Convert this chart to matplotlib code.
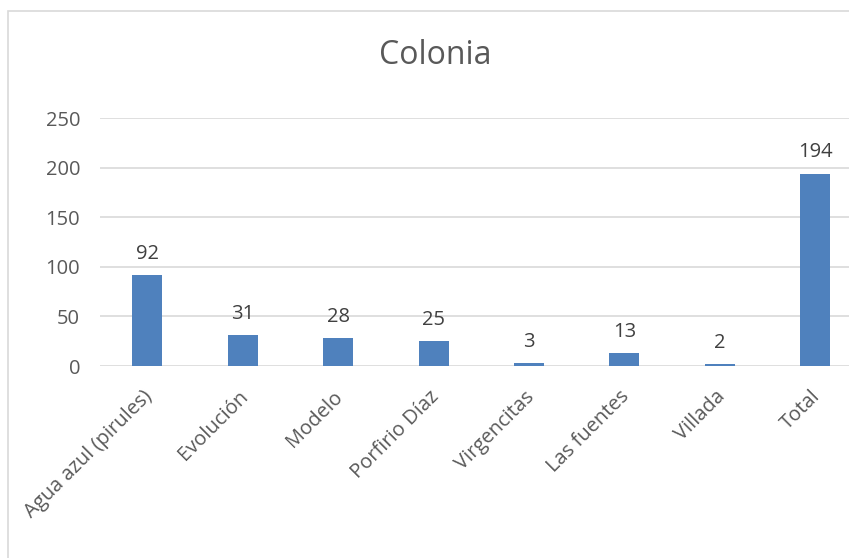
import numpy as np
import matplotlib.pyplot as plt
import matplotlib.transforms as mtransforms
from matplotlib.patches import Rectangle

categorias = ['Agua azul (pirules)', 'Evolución', 'Modelo', 'Porfirio Díaz',
              'Virgencitas', 'Las fuentes', 'Villada', 'Total']
valores = [92, 31, 28, 25, 3, 13, 2, 194]
yticks = [0, 50, 100, 150, 200, 250]

plt.rcParams['font.family'] = ['Open Sans', 'DejaVu Sans']
gris = '#595959'

fig = plt.figure(figsize=(8.49, 5.58), dpi=100)
# chart border (Excel style), cut off on the right and bottom
fig.patches.append(Rectangle((8/849, -0.1), 1.2, (558-11)/558 + 0.1,
                             transform=fig.transFigure, fill=False,
                             edgecolor='#D9D9D9', lw=1.2))

ax = fig.add_axes([99.5/849, 192/558, 763.5/849, 248/558])
x = np.arange(len(categorias))
bars = ax.bar(x, valores, width=0.314, color='#4F81BD', zorder=3)

for xi, v in zip(x, valores):
    ax.annotate(str(v), (xi, v), xytext=(0, 8), textcoords='offset points',
                ha='center', va='bottom', fontsize=14.5, color='#404040')

ax.set_xlim(-0.5, len(categorias) - 0.5)
ax.set_ylim(0, 250)
ax.set_yticks(yticks)
ax.grid(axis='y', color='#D9D9D9', lw=1.2, zorder=0)
for s in ax.spines.values():
    s.set_visible(False)
ax.tick_params(length=0, colors=gris, labelsize=14.5)
ax.tick_params(axis='y', pad=14)
ax.tick_params(axis='x', pad=15)
ax.set_xticks(x)
ax.set_xticklabels(categorias, rotation=45, ha='right', rotation_mode='anchor')
shift = mtransforms.ScaledTranslation(-5/100, 0, fig.dpi_scale_trans)
for lab in ax.get_xticklabels():
    lab.set_transform(lab.get_transform() + shift)

fig.text(435/849, 1 - 55/558, 'Colonia', ha='center', va='center',
         fontsize=23, color=gris)

fig.savefig('out.png', dpi=100)
